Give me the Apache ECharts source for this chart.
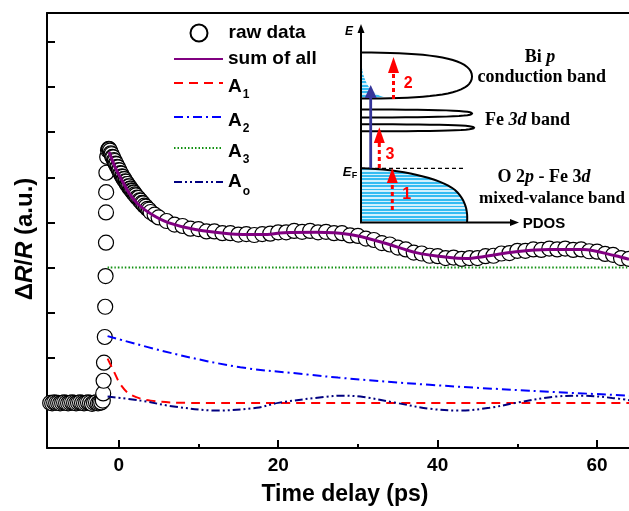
<!DOCTYPE html>
<html>
<head>
<meta charset="utf-8">
<script src="https://cdn.jsdelivr.net/npm/echarts@6/dist/echarts.min.js"></script>
<style>
  html, body { margin: 0; padding: 0; background: #fff; }
  #chart { width: 629px; height: 511px; }
</style>
</head>
<body>
<div id="chart"></div>
<script>
// raw data (time delay in ps, dR/R in a.u.)
const rawT = [-8.6, -8.35, -8.1, -7.85, -7.6, -7.35, -7.1, -6.85, -6.6, -6.35, -6.1, -5.85, -5.6, -5.35, -5.1, -4.85,
  -4.6, -4.35, -4.1, -3.85, -3.6, -3.35, -3.1, -2.85, -2.6, -2.4, -2.2,
  -2.0, -1.95, -1.9, -1.85, -1.75, -1.7, -1.65, -1.6, -1.6, -1.58, -1.55, -1.45, -1.35, -1.25,
  -1.2, -1.1, -1.0, -0.9, -0.8, -0.7, -0.6, -0.5, -0.4, -0.3, -0.2, -0.1, 0.0, 0.1, 0.2, 0.3, 0.4, 0.5, 0.6, 0.7, 0.8, 0.9,
  1.0, 1.1, 1.2, 1.3, 1.4, 1.5, 1.6, 1.7, 1.8, 1.9, 2.0, 2.15, 2.3, 2.45, 2.6, 2.75, 2.9, 3.05, 3.2, 3.4, 3.6, 3.8, 4.0, 4.5,
  5, 6, 7, 8, 9, 10, 11, 12, 13, 14, 15, 16, 17, 18, 19, 20, 21, 22, 23, 24, 25, 26, 27, 28, 29, 30, 31, 32, 33, 34,
  35, 36, 37, 38, 39, 40, 41, 42, 43, 44, 45, 46, 47, 48, 49, 50, 51, 52, 53, 54, 55, 56, 57, 58, 59, 60, 61, 62, 63, 64];
const rawV = [1.00, 0.99, 1.01, 1.00, 1.00, 0.99, 1.00, 1.01, 1.00, 0.99, 1.00, 1.01, 1.00, 0.99, 1.00, 1.01,
  1.00, 0.99, 1.00, 1.01, 1.00, 0.98, 1.00, 1.01, 0.99, 1.00, 1.01,
  1.05, 1.21, 1.49, 1.89, 2.46, 3.13, 3.81, 4.55, 5.22, 5.67, 6.10, 6.45, 6.60, 6.63,
  6.62, 6.59, 6.53, 6.51, 6.45, 6.44, 6.38, 6.36, 6.30, 6.29, 6.23, 6.22, 6.16, 6.15, 6.09, 6.08, 6.02, 6.01, 5.96, 5.96, 5.91, 5.90,
  5.85, 5.85, 5.80, 5.80, 5.75, 5.75, 5.71, 5.70, 5.66, 5.66, 5.62, 5.60, 5.55, 5.54, 5.49, 5.48, 5.43, 5.42, 5.37, 5.35, 5.30, 5.28, 5.23, 5.17,
  5.11, 5.03, 4.95, 4.92, 4.86, 4.85, 4.80, 4.80, 4.76, 4.76, 4.73, 4.74, 4.72, 4.74, 4.75, 4.78, 4.78, 4.81, 4.79, 4.81, 4.78, 4.79, 4.76, 4.76, 4.71, 4.70, 4.64, 4.61, 4.54, 4.51,
  4.44, 4.40, 4.33, 4.31, 4.26, 4.25, 4.21, 4.22, 4.19, 4.21, 4.21, 4.25, 4.26, 4.31, 4.32, 4.37, 4.37, 4.40, 4.39, 4.42, 4.40, 4.42, 4.39, 4.40, 4.36, 4.35, 4.30, 4.28, 4.21, 4.19];

// fitted curves
const sumT = [-1.2, -0.4, 0.5, 1.3, 2.5, 4.2, 6.3, 9.6, 13.8, 18, 20.7, 24.8, 29, 33.2, 37.3, 41.5, 43.6, 45.7, 49.8, 54, 58.2, 62.3, 64];
const sumV = [6.56, 6.20, 5.90, 5.65, 5.39, 5.17, 4.99, 4.84, 4.75, 4.73, 4.77, 4.78, 4.73, 4.55, 4.33, 4.22, 4.20, 4.24, 4.35, 4.40, 4.40, 4.26, 4.18];
const a1T = [-1.4, -0.6, 0.25, 1.5, 4, 9, 64];
const a1V = [1.98, 1.69, 1.40, 1.18, 1.05, 1.00, 1.00];
const a2T = [-1.4, 6.9, 15.25, 23.6, 27.5, 39, 51.5, 64];
const a2V = [2.48, 2.09, 1.79, 1.63, 1.56, 1.40, 1.27, 1.16];
const a3T = [-1.4, 64];
const a3V = [4.0, 4.0];
const aoT = [-1.4, 2.75, 6.9, 12.3, 17.3, 20, 25.7, 28, 30.7, 34.8, 39, 42.75, 46.5, 49.8, 54.8, 58.2, 61.9, 64];
const aoV = [1.14, 1.05, 0.92, 0.83, 0.89, 1.00, 1.13, 1.16, 1.13, 1.00, 0.87, 0.83, 0.89, 1.00, 1.14, 1.16, 1.11, 1.06];

const xTicks = [0, 20, 40, 60];
const xMinorTicks = [10, 30, 50];
const yTicks = [1, 2, 3, 4, 5, 6, 7, 8, 9];

const pairs = (t, v) => t.map((x, i) => [x, v[i]]);
const font = 'Liberation Sans';
const serif = 'Liberation Serif';

// 小工具: 贝塞尔采样 + 条纹填充
function cubic(p0, p1, p2, p3, n) {
  let pts = [];
  for (let i = 0; i <= n; i++) {
    let t = i / n, u = 1 - t;
    pts.push([
      u * u * u * p0[0] + 3 * u * u * t * p1[0] + 3 * u * t * t * p2[0] + t * t * t * p3[0],
      u * u * u * p0[1] + 3 * u * u * t * p1[1] + 3 * u * t * t * p2[1] + t * t * t * p3[1]
    ]);
  }
  return pts;
}
function stripes(n) {
  let s = [];
  for (let i = 0; i < n; i++) {
    let a = i / n, b = (i + 0.55) / n, c = (i + 1) / n;
    s.push({ offset: a, color: '#35bcf2' }, { offset: b, color: '#35bcf2' },
      { offset: b, color: '#d4f1fd' }, { offset: c, color: '#d4f1fd' });
  }
  return new echarts.graphic.LinearGradient(0, 0, 0, 1, s);
}
function arrow(x, y0, y1, tip, base, w, color, dashed, lw) {
  return [
    { type: 'line', shape: { x1: x, y1: y0, x2: x, y2: y1 },
      style: { stroke: color, lineWidth: lw, lineDash: dashed ? [4, 3] : null } },
    { type: 'polygon', shape: { points: [[x, tip], [x - w / 2, base], [x + w / 2, base]] },
      style: { fill: color } }
  ];
}

// inset band diagram
let cbShape = cubic([361, 52.5], [430, 52.5], [472, 58], [472, 76.5], 20)
  .concat(cubic([472, 76.5], [472, 95], [430, 98.5], [361, 98.5], 20));
let fe1 = cubic([361, 109.5], [440, 109.5], [472, 110.5], [472, 113.5], 14)
  .concat(cubic([472, 113.5], [472, 116.5], [440, 117.5], [361, 117.5], 14));
let fe2 = cubic([361, 124.3], [442, 124.3], [474, 125], [474, 127.7], 14)
  .concat(cubic([474, 127.7], [474, 130.5], [442, 131.3], [361, 131.3], 14));
let vbCurve = cubic([361, 168.3], [400, 169], [440, 178], [455, 190], 16)
  .concat(cubic([455, 190], [466, 200], [468, 212], [467, 222.5], 12));
let cbFill = [];
for (let i = 0; i <= 12; i++) {
  let t = i / 12, u = 1 - t;
  cbFill.push([u * u * 362 + 2 * u * t * 366 + t * t * 386, u * u * 68 + 2 * u * t * 94 + t * t * 97.5]);
}
cbFill.push([362, 98]);

let inset = [
  { type: 'polygon', shape: { points: vbCurve.concat([[361, 222.5]]) }, style: { fill: stripes(16) } },
  { type: 'polyline', shape: { points: vbCurve }, style: { stroke: '#000', lineWidth: 2, fill: null } },
  { type: 'polygon', shape: { points: cbFill }, style: { fill: stripes(9) } },
  { type: 'polyline', shape: { points: cbShape }, style: { stroke: '#000', lineWidth: 2, fill: null } },
  { type: 'polyline', shape: { points: fe1 }, style: { stroke: '#000', lineWidth: 2, fill: null } },
  { type: 'polyline', shape: { points: fe2 }, style: { stroke: '#000', lineWidth: 2, fill: null } },
  { type: 'line', shape: { x1: 361, y1: 168.3, x2: 463, y2: 168.3 }, style: { stroke: '#000', lineWidth: 1.2, lineDash: [4, 3] } },
  // axes
  { type: 'line', shape: { x1: 361, y1: 223, x2: 361, y2: 30 }, style: { stroke: '#000', lineWidth: 2 } },
  { type: 'polygon', shape: { points: [[361, 24], [357.5, 33], [364.5, 33]] }, style: { fill: '#000' } },
  { type: 'line', shape: { x1: 360, y1: 222.5, x2: 512, y2: 222.5 }, style: { stroke: '#000', lineWidth: 2 } },
  { type: 'polygon', shape: { points: [[519, 222.5], [510, 219], [510, 226]] }, style: { fill: '#000' } }
]
  .concat(arrow(370.7, 168.3, 96, 85, 98, 12, '#35359a', false, 2.8))
  .concat(arrow(393.5, 99, 72, 57, 73, 11, '#ff0000', true, 3))
  .concat(arrow(379.3, 168, 142, 127.3, 143, 11, '#ff0000', true, 3))
  .concat(arrow(392.3, 210, 182, 168.3, 183, 11, '#ff0000', true, 3))
  .concat([
    { type: 'text', x: 349, y: 32, style: { text: 'E', font: 'italic bold 12px ' + font, fill: '#000', align: 'center', verticalAlign: 'middle' } },
    { type: 'text', x: 347, y: 172.5, style: { text: 'E', font: 'italic bold 13px ' + font, fill: '#000', align: 'center', verticalAlign: 'middle' } },
    { type: 'text', x: 354.5, y: 175.5, style: { text: 'F', font: 'bold 9px ' + font, fill: '#000', align: 'center', verticalAlign: 'middle' } },
    { type: 'text', x: 544, y: 224, style: { text: 'PDOS', font: 'bold 15px ' + font, fill: '#000', align: 'center', verticalAlign: 'middle' } },
    { type: 'text', x: 408.3, y: 83.3, style: { text: '2', font: 'bold 16px ' + font, fill: '#ff0000', align: 'center', verticalAlign: 'middle' } },
    { type: 'text', x: 390, y: 155, style: { text: '3', font: 'bold 16px ' + font, fill: '#ff0000', align: 'center', verticalAlign: 'middle' } },
    { type: 'text', x: 406.7, y: 195, style: { text: '1', font: 'bold 16px ' + font, fill: '#ff0000', align: 'center', verticalAlign: 'middle' } },
    { type: 'text', x: 540, y: 57, style: { text: '{b|Bi }{i|p}', align: 'center', verticalAlign: 'middle',
      rich: { b: { font: 'bold 18px ' + serif, fill: '#000' }, i: { font: 'italic bold 18px ' + serif, fill: '#000' } } } },
    { type: 'text', x: 541.7, y: 77.5, style: { text: 'conduction band', font: 'bold 18px ' + serif, fill: '#000', align: 'center', verticalAlign: 'middle' } },
    { type: 'text', x: 527.5, y: 120, style: { text: '{b|Fe }{i|3d}{b| band}', align: 'center', verticalAlign: 'middle',
      rich: { b: { font: 'bold 18px ' + serif, fill: '#000' }, i: { font: 'italic bold 18px ' + serif, fill: '#000' } } } },
    { type: 'text', x: 544, y: 177, style: { text: '{b|O 2}{i|p}{b| - Fe 3}{i|d}', align: 'center', verticalAlign: 'middle',
      rich: { b: { font: 'bold 18px ' + serif, fill: '#000' }, i: { font: 'italic bold 18px ' + serif, fill: '#000' } } } },
    { type: 'text', x: 552, y: 199, style: { text: 'mixed-valance band', font: 'bold 17px ' + serif, fill: '#000', align: 'center', verticalAlign: 'middle' } }
  ]);

// legend: one per entry so the rows sit where they do in the figure
const legendText = {
  fontFamily: font, fontSize: 19, fontWeight: 'bold', color: '#000', lineHeight: 36,
  rich: {
    a: { fontFamily: font, fontSize: 19, fontWeight: 'bold', color: '#000', lineHeight: 28, padding: [8, 0, 0, 0] },
    o: { fontFamily: font, fontSize: 19, fontWeight: 'bold', color: '#000', lineHeight: 36 },
    s: { fontFamily: font, fontSize: 12, fontWeight: 'bold', color: '#000', lineHeight: 12, padding: [24, 0, 0, 1] },
    so: { fontFamily: font, fontSize: 12, fontWeight: 'bold', color: '#000', lineHeight: 12, padding: [20, 0, 0, 1] }
  }
};
const legendNames = ['raw data', 'sum of all', 'A1', 'A2', 'A3', 'Ao'];
const legendTops = [15, 41, 65, 99, 130, 164];
const legends = legendNames.map((n, i) => ({
  data: [n], left: i === 0 ? 189.5 : 173, top: legendTops[i], padding: 0,
  itemWidth: 49, itemHeight: i === 0 ? 17 : 14, itemGap: 0,
  selectedMode: false, textStyle: legendText,
  itemStyle: i === 0 ? {} : { opacity: 0 },
  formatter: (name) => {
    if (name === 'Ao') return '{o|A}{so|o}';
    if (name.charAt(0) === 'A') return '{a|A}{s|' + name.slice(1) + '}';
    return name;
  }
}));

const fitLine = (name, t, v, color, width, dash) => ({
  name: name, type: 'line', data: pairs(t, v), symbol: 'none', smooth: 0.35,
  lineStyle: { color: color, width: width, type: dash }, itemStyle: { color: color }, z: 3
});

let myChart = echarts.init(document.getElementById('chart'), null, { renderer: 'canvas' });
let option = {
  backgroundColor: '#fff',
  animation: false,
  grid: { left: 47, right: 0, top: 13, bottom: 59 },
  legend: legends,
  xAxis: [
    {
      type: 'value', min: -9, max: 64, position: 'bottom',
      name: 'Time delay (ps)', nameLocation: 'middle', nameGap: 35,
      nameTextStyle: { fontFamily: font, fontSize: 23, fontWeight: 'bold', color: '#000', padding: [0, 0, 0, 14] },
      axisLine: { onZero: false, lineStyle: { color: '#000', width: 2 } },
      axisTick: { inside: true, length: 8, customValues: xTicks, lineStyle: { color: '#000', width: 2 } },
      axisLabel: { customValues: xTicks, margin: 8, fontFamily: font, fontSize: 19, fontWeight: 'bold', color: '#000' },
      splitLine: { show: false }
    },
    {
      // minor ticks
      type: 'value', min: -9, max: 64, position: 'bottom',
      axisLine: { show: false, onZero: false },
      axisTick: { inside: true, length: 4, customValues: xMinorTicks, lineStyle: { color: '#000', width: 2 } },
      axisLabel: { show: false }, splitLine: { show: false }
    },
    {
      // top frame
      type: 'value', min: -9, max: 64, position: 'top',
      axisLine: { onZero: false, lineStyle: { color: '#000', width: 2 } },
      axisTick: { show: false }, axisLabel: { show: false }, splitLine: { show: false }
    }
  ],
  yAxis: {
    type: 'value', min: 0, max: 9.64, position: 'left',
    name: '{d|Δ}{i|R}{d|/}{i|R}{d| (a.u.)}', nameLocation: 'middle', nameGap: 10, nameRotate: 90,
    nameTextStyle: {
      fontFamily: font, fontSize: 24, fontWeight: 'bold', color: '#000', padding: [0, 17, 0, 0],
      rich: {
        d: { fontFamily: font, fontSize: 24, fontWeight: 'bold', color: '#000' },
        i: { fontFamily: font, fontSize: 24, fontWeight: 'bold', fontStyle: 'italic', color: '#000' }
      }
    },
    axisLine: { onZero: false, lineStyle: { color: '#000', width: 2 } },
    axisTick: { inside: true, length: 8, customValues: yTicks, lineStyle: { color: '#000', width: 2 } },
    axisLabel: { show: false },
    splitLine: { show: false }
  },
  graphic: inset,
  series: [
    {
      name: 'raw data', type: 'scatter', data: pairs(rawT, rawV),
      symbol: 'circle', symbolSize: 15,
      itemStyle: { color: '#fff', borderColor: '#000', borderWidth: 1.2, opacity: 1 }, z: 2
    },
    fitLine('sum of all', sumT, sumV, '#800080', 3, 'solid'),
    fitLine('A1', a1T, a1V, '#ff0000', 2, [9, 6]),
    fitLine('A2', a2T, a2V, '#0000ff', 2, [9, 4, 2, 4]),
    fitLine('A3', a3T, a3V, '#109010', 2, [1.5, 2]),
    fitLine('Ao', aoT, aoV, '#000080', 2, [8, 3, 2, 3, 2, 3])
  ]
};
myChart.setOption(option);
</script>
</body>
</html>
